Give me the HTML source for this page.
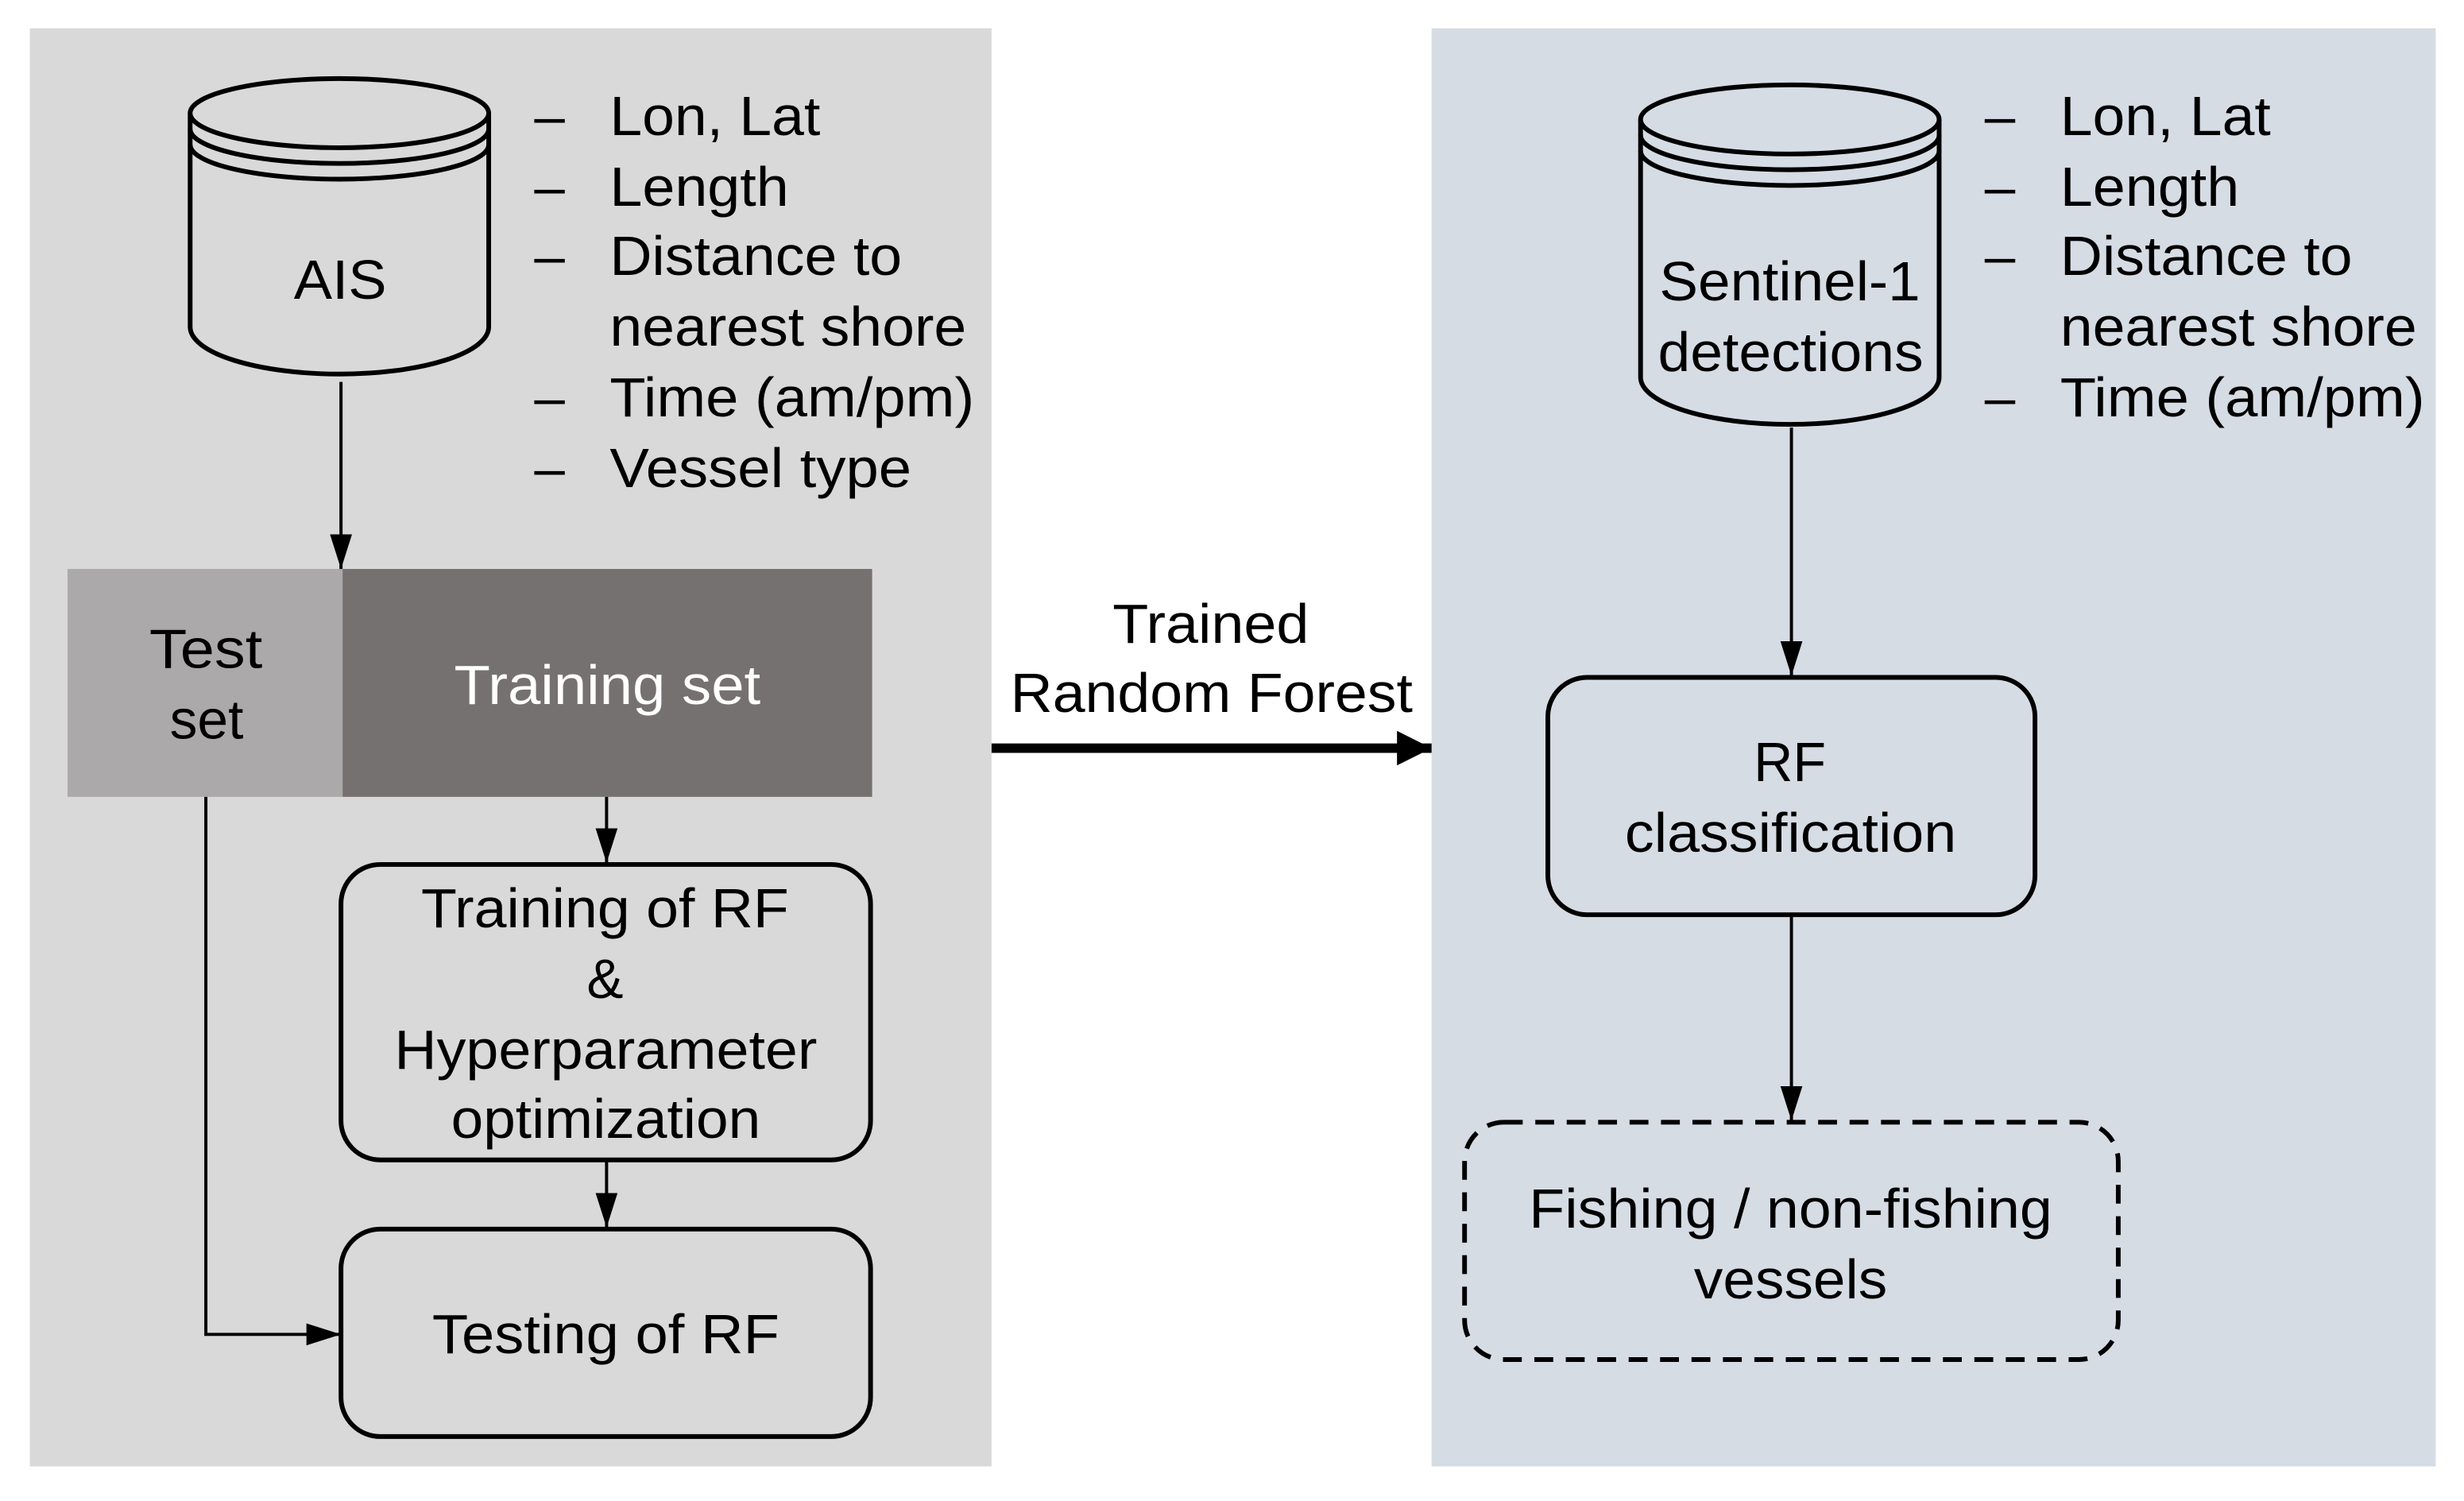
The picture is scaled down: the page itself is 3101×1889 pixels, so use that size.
<!DOCTYPE html>
<html><head><meta charset="utf-8"><style>
html,body{margin:0;padding:0;background:#fff;}
svg{display:block;}
text{font-family:"Liberation Sans",Arial,Helvetica,sans-serif;font-size:35px;fill:#000;}
</style></head><body>
<svg width="3101" height="1889" viewBox="0 0 1568 955" preserveAspectRatio="none" xmlns="http://www.w3.org/2000/svg">
<defs>
<marker id="ah2" markerWidth="22" markerHeight="22" refX="22" refY="11" orient="auto" markerUnits="userSpaceOnUse" viewBox="0 0 22 22">
<path d="M0,0 L22,11 L0,22 z" fill="#000"/></marker>
<marker id="a1" viewBox="0 0 22 22" refX="22" refY="11" markerWidth="22" markerHeight="22" orient="auto" markerUnits="userSpaceOnUse"><path d="M0,4 L22,11 L0,18 z" fill="#000"/></marker>
</defs>
<rect x="19" y="18" width="612" height="915" fill="#d9d9d9"/>
<rect x="911" y="18" width="639" height="915" fill="#d6dce4"/>

<!-- AIS cylinder -->
<g fill="none" stroke="#000" stroke-width="3">
<path d="M121,72 L121,208 A95,30 0 0 0 311,208 L311,72" fill="#d9d9d9"/>
<ellipse cx="216" cy="72" rx="95" ry="22" fill="#d9d9d9"/>
<path d="M121,82 A95,22 0 0 0 311,82"/>
<path d="M121,92 A95,22 0 0 0 311,92"/>
</g>
<text x="187" y="190" textLength="59" lengthAdjust="spacingAndGlyphs">AIS</text>
<g>
<text x="340" y="86">–</text><text x="388" y="86" textLength="134" lengthAdjust="spacingAndGlyphs">Lon, Lat</text>
<text x="340" y="131">–</text><text x="388" y="131" textLength="114" lengthAdjust="spacingAndGlyphs">Length</text>
<text x="340" y="175">–</text><text x="388" y="175" textLength="186" lengthAdjust="spacingAndGlyphs">Distance to</text>
<text x="388" y="220" textLength="227" lengthAdjust="spacingAndGlyphs">nearest shore</text>
<text x="340" y="265">–</text><text x="388" y="265" textLength="232" lengthAdjust="spacingAndGlyphs">Time (am/pm)</text>
<text x="340" y="310">–</text><text x="388" y="310" textLength="192" lengthAdjust="spacingAndGlyphs">Vessel type</text>
</g>
<line x1="217" y1="243" x2="217" y2="362" stroke="#000" stroke-width="2" marker-end="url(#a1)"/>

<rect x="43" y="362" width="175" height="145" fill="#aba9aa"/>
<rect x="218" y="362" width="337" height="145" fill="#757170"/>
<text x="95" y="425" textLength="72" lengthAdjust="spacingAndGlyphs">Test</text>
<text x="108" y="470" textLength="47" lengthAdjust="spacingAndGlyphs">set</text>
<text x="289" y="448" textLength="195" lengthAdjust="spacingAndGlyphs" style="fill:#fff">Training set</text>

<line x1="386" y1="507" x2="386" y2="549" stroke="#000" stroke-width="2" marker-end="url(#a1)"/>
<rect x="217" y="550" width="337" height="188" rx="25" fill="#d9d9d9" stroke="#000" stroke-width="3"/>
<text x="268" y="590" textLength="234" lengthAdjust="spacingAndGlyphs">Training of RF</text>
<text x="385" y="635" text-anchor="middle">&amp;</text>
<text x="251" y="680" textLength="269" lengthAdjust="spacingAndGlyphs">Hyperparameter</text>
<text x="287" y="724" textLength="197" lengthAdjust="spacingAndGlyphs">optimization</text>
<line x1="386" y1="738" x2="386" y2="781" stroke="#000" stroke-width="2" marker-end="url(#a1)"/>
<rect x="217" y="782" width="337" height="132" rx="25" fill="#d9d9d9" stroke="#000" stroke-width="3"/>
<text x="275" y="861" textLength="221" lengthAdjust="spacingAndGlyphs">Testing of RF</text>
<polyline points="131,507 131,849 217,849" fill="none" stroke="#000" stroke-width="2" marker-end="url(#a1)"/>

<!-- middle -->
<line x1="631" y1="476" x2="911" y2="476" stroke="#000" stroke-width="6" marker-end="url(#ah2)"/>
<text x="708" y="409" textLength="125" lengthAdjust="spacingAndGlyphs">Trained</text>
<text x="643" y="453" textLength="256" lengthAdjust="spacingAndGlyphs">Random Forest</text>

<!-- Sentinel cylinder -->
<g fill="none" stroke="#000" stroke-width="3">
<path d="M1044,76 L1044,240 A95,30 0 0 0 1234,240 L1234,76" fill="#d6dce4"/>
<ellipse cx="1139" cy="76" rx="95" ry="22" fill="#d6dce4"/>
<path d="M1044,86 A95,22 0 0 0 1234,86"/>
<path d="M1044,96 A95,22 0 0 0 1234,96"/>
</g>
<text x="1056" y="191" textLength="166" lengthAdjust="spacingAndGlyphs">Sentinel-1</text>
<text x="1055" y="236" textLength="169" lengthAdjust="spacingAndGlyphs">detections</text>
<g>
<text x="1263" y="86">–</text><text x="1311" y="86" textLength="134" lengthAdjust="spacingAndGlyphs">Lon, Lat</text>
<text x="1263" y="131">–</text><text x="1311" y="131" textLength="114" lengthAdjust="spacingAndGlyphs">Length</text>
<text x="1263" y="175">–</text><text x="1311" y="175" textLength="186" lengthAdjust="spacingAndGlyphs">Distance to</text>
<text x="1311" y="220" textLength="227" lengthAdjust="spacingAndGlyphs">nearest shore</text>
<text x="1263" y="265">–</text><text x="1311" y="265" textLength="232" lengthAdjust="spacingAndGlyphs">Time (am/pm)</text>
</g>
<line x1="1140" y1="272" x2="1140" y2="430" stroke="#000" stroke-width="2" marker-end="url(#a1)"/>
<rect x="985" y="431" width="310" height="151" rx="25" fill="#d6dce4" stroke="#000" stroke-width="3"/>
<text x="1116" y="497" textLength="46" lengthAdjust="spacingAndGlyphs">RF</text>
<text x="1034" y="542" textLength="211" lengthAdjust="spacingAndGlyphs">classification</text>
<line x1="1140" y1="583" x2="1140" y2="713" stroke="#000" stroke-width="2" marker-end="url(#a1)"/>
<rect x="932" y="714" width="416" height="151" rx="25" fill="none" stroke="#000" stroke-width="3" stroke-dasharray="12,8"/>
<text x="973" y="781" textLength="333" lengthAdjust="spacingAndGlyphs">Fishing / non-fishing</text>
<text x="1078" y="826" textLength="123" lengthAdjust="spacingAndGlyphs">vessels</text>
</svg>
</body></html>
